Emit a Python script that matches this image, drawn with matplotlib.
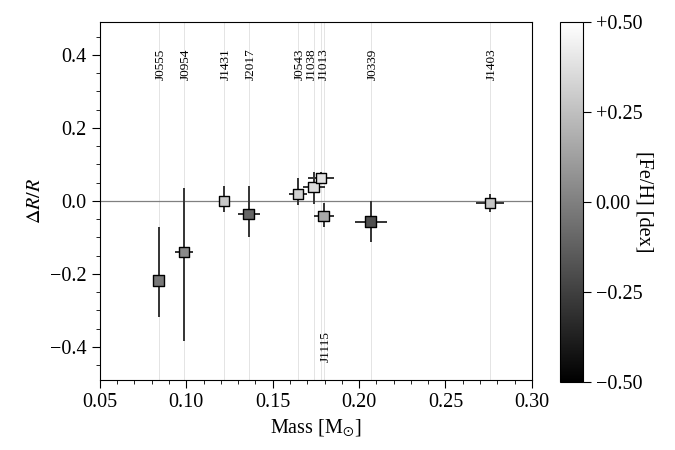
import numpy as np
import matplotlib
matplotlib.use('Agg')
import matplotlib.pyplot as plt
from matplotlib.colors import Normalize
from matplotlib.cm import ScalarMappable

plt.rcParams['font.family'] = ['Liberation Serif', 'DejaVu Serif']
plt.rcParams['mathtext.fontset'] = 'stix'

names = ['J0555', 'J0954', 'J1431', 'J2017', 'J0543', 'J1038', 'J1013', 'J1115', 'J0339', 'J1403']
mass = [0.0841, 0.0986, 0.1218, 0.1362, 0.1646, 0.1738, 0.1779, 0.1796, 0.2068, 0.2757]
mass_err = [0.002, 0.005, 0.002, 0.0064, 0.005, 0.0064, 0.0075, 0.0058, 0.0093, 0.008]
dr = [-0.219, -0.140, 0.000, -0.036, 0.019, 0.038, 0.063, -0.041, -0.057, -0.006]
dr_hi = [0.148, 0.176, 0.041, 0.077, 0.045, 0.041, 0.016, 0.036, 0.057, 0.025]
dr_lo = [0.099, 0.243, 0.030, 0.063, 0.029, 0.046, 0.016, 0.030, 0.055, 0.025]
feh = [-0.03, 0.04, 0.28, -0.1, 0.32, 0.36, 0.38, 0.16, -0.19, 0.27]
# names whose label goes at the bottom (crowded at top)
low_labels = ['J1115']
# label nudges (in mass units) so the crowded names don't overlap
label_shift = {'J0543': 0.0012, 'J1038': -0.0012, 'J1013': 0.0018}

fig = plt.figure(figsize=(6.75, 4.5), dpi=100)
ax = fig.add_axes([0.148, 0.156, 0.640, 0.795])
cax = fig.add_axes([0.829, 0.151, 0.034, 0.80])

norm = Normalize(vmin=-0.5, vmax=0.5)
cmap = plt.get_cmap('gray')

for m, n in zip(mass, names):
    ax.axvline(m, color='#e4e4e4', lw=0.7, zorder=0)
    lx = m + label_shift.get(n, 0.001)
    if n in low_labels:
        ax.text(lx, -0.44, n, rotation=90, ha='center', va='bottom', fontsize=9.5)
    else:
        ax.text(lx, 0.33, n, rotation=90, ha='center', va='bottom', fontsize=9.5)

ax.axhline(0, color='#808080', lw=0.9, zorder=1)

ax.errorbar(mass, dr, yerr=[dr_lo, dr_hi], xerr=mass_err, fmt='none',
            ecolor='#333333', elinewidth=1.4, capsize=0, zorder=2)
ax.scatter(mass, dr, c=feh, cmap=cmap, norm=norm, marker='s', s=60,
           edgecolors='black', linewidths=1.0, zorder=3)

ax.set_xlim(0.05, 0.30)
ax.set_ylim(-0.49, 0.49)
ax.set_xticks(np.arange(0.05, 0.301, 0.05))
ax.set_xticks(np.arange(0.05, 0.301, 0.01), minor=True)
ax.set_yticks([-0.4, -0.2, 0.0, 0.2, 0.4])
ax.set_yticks(np.arange(-0.45, 0.46, 0.05), minor=True)
ax.tick_params(which='both', direction='out', labelsize=14.5)
ax.tick_params(which='major', length=6)
ax.tick_params(which='minor', length=3)
ax.set_xticklabels(['0.05', '0.10', '0.15', '0.20', '0.25', '0.30'])
ax.set_yticklabels(['\u22120.4', '\u22120.2', '0.0', '0.2', '0.4'])
ax.set_xlabel(r'Mass [M$_{\odot}$]', fontsize=14.5)
ax.set_ylabel(r'$\Delta R/R$', fontsize=14.5)

sm = ScalarMappable(norm=norm, cmap=cmap)
cb = fig.colorbar(sm, cax=cax)
cb.set_ticks([-0.5, -0.25, 0.0, 0.25, 0.5])
cb.set_ticklabels(['\u22120.50', '\u22120.25', '0.00', '+0.25', '+0.50'])
cb.ax.tick_params(labelsize=14.5, length=6)
cb.set_label('[Fe/H] [dex]', rotation=270, fontsize=14.5, labelpad=-6, va='bottom')

fig.savefig('out.png', dpi=100)
